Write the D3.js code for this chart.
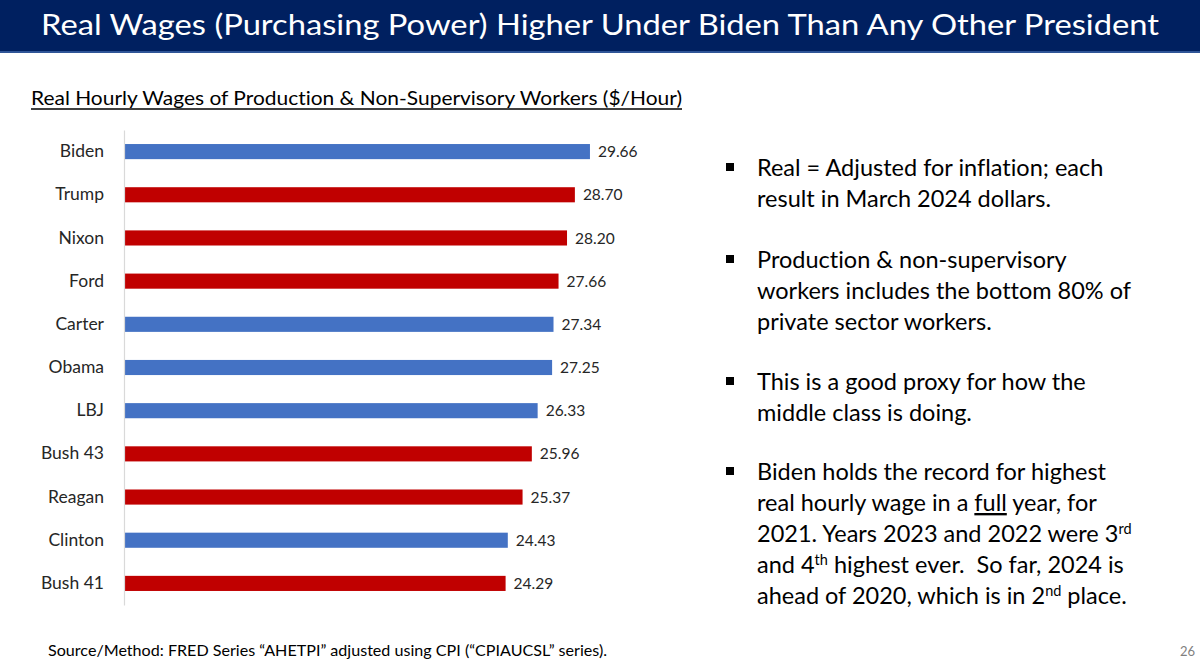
<!DOCTYPE html>
<html>
<head>
<meta charset="utf-8">
<script src="https://cdn.jsdelivr.net/npm/d3@7/dist/d3.min.js"></script>
<style>
  html, body { margin: 0; padding: 0; background: #fff; }
  svg { display: block; font-family: Lato, "Noto Sans", sans-serif; font-variant-ligatures: none; font-feature-settings: "liga" 0, "clig" 0; }
</style>
</head>
<body>
<svg id="chart" width="1200" height="669"></svg>
<script>
const presidents = ["Biden","Trump","Nixon","Ford","Carter","Obama","LBJ","Bush 43","Reagan","Clinton","Bush 41"];
const wages = [29.66, 28.70, 28.20, 27.66, 27.34, 27.25, 26.33, 25.96, 25.37, 24.43, 24.29];
const parties = ["D","R","R","R","D","D","D","R","R","D","R"];
const partyColors = { D: "#4472C4", R: "#C00000" };

const titleText = "Real Wages (Purchasing Power) Higher Under Biden Than Any Other President";
const subtitleText = "Real Hourly Wages of Production & Non-Supervisory Workers ($/Hour)";
const sourceText = "Source/Method: FRED Series \u201CAHETPI\u201D adjusted using CPI (\u201CCPIAUCSL\u201D series).";
const pageNumber = "26";

const data = presidents.map((p, i) => ({ name: p, value: wages[i], party: parties[i] }));

const svg = d3.select("#chart");

// Title bar
svg.append("rect").attr("x", 0).attr("y", 0).attr("width", 1200).attr("height", 52).attr("fill", "#002060");
svg.append("rect").attr("x", 0).attr("y", 51).attr("width", 1200).attr("height", 2).attr("fill", "#2F5597");
svg.append("text")
  .attr("x", 600).attr("y", 35)
  .attr("text-anchor", "middle")
  .attr("fill", "#fff")
  .attr("font-size", 28)
  .attr("textLength", 1118)
  .attr("lengthAdjust", "spacingAndGlyphs")
  .text(titleText);

// Subtitle
svg.append("text")
  .attr("x", 31).attr("y", 105)
  .attr("fill", "#000")
  .attr("font-size", 19)
  .attr("textLength", 651)
  .attr("lengthAdjust", "spacingAndGlyphs")
  .text(subtitleText);
svg.append("line").attr("x1", 31).attr("x2", 682).attr("y1", 109).attr("y2", 109)
  .attr("stroke", "#000").attr("stroke-width", 1.3);

// Scales
const x = d3.scaleLinear().domain([0, 30]).range([124, 595.3]);
const y = d3.scaleBand().domain(presidents).range([130, 605]).paddingInner(0.65).paddingOuter(0.325);

// Bars
svg.append("g").selectAll("rect").data(data).join("rect")
  .attr("x", x(0))
  .attr("y", d => y(d.name))
  .attr("width", d => x(d.value) - x(0))
  .attr("height", y.bandwidth())
  .attr("fill", d => partyColors[d.party]);

// Axis
const axis = svg.append("g")
  .attr("transform", `translate(${x(0)},0)`)
  .call(d3.axisLeft(y).tickSize(0).tickSizeOuter(0).tickPadding(20));
axis.select(".domain").attr("stroke", "#D9D9D9").attr("stroke-width", 1.2);
axis.selectAll("text")
  .attr("font-size", 17.5)
  .attr("fill", "#262626")
  .attr("font-family", "Lato, 'Noto Sans', sans-serif");

// Value labels
svg.append("g").selectAll("text").data(data).join("text")
  .attr("x", d => x(d.value) + 8)
  .attr("y", d => y(d.name) + y.bandwidth() / 2)
  .attr("dy", "0.36em")
  .attr("font-size", 15.5)
  .attr("fill", "#262626")
  .text(d => d.value.toFixed(2));

// Bullets
const bullets = [
  { top: 168, lines: [[{t:"Real = Adjusted for inflation; each"}], [{t:"result in March 2024 dollars."}]] },
  { top: 260, lines: [[{t:"Production & non-supervisory"}], [{t:"workers includes the bottom 80% of"}], [{t:"private sector workers."}]] },
  { top: 382, lines: [[{t:"This is a good proxy for how the"}], [{t:"middle class is doing."}]] },
  { top: 472, lines: [
      [{t:"Biden holds the record for highest"}],
      [{t:"real hourly wage in a "}, {t:"full", u:true}, {t:" year, for"}],
      [{t:"2021. Years 2023 and 2022 were 3"}, {t:"rd", sup:true}],
      [{t:"and 4"}, {t:"th", sup:true}, {t:" highest ever.  So far, 2024 is"}],
      [{t:"ahead of 2020, which is in 2"}, {t:"nd", sup:true}, {t:" place."}]
    ] }
];
const lineH = 31;
const bg = svg.append("g");
bullets.forEach(b => {
  bg.append("rect").attr("x", 726).attr("y", b.top - 5).attr("width", 8).attr("height", 8).attr("fill", "#000");
  b.lines.forEach((ln, i) => {
    const t = bg.append("text")
      .attr("x", 757).attr("y", b.top + 8 + i * lineH)
      .attr("font-size", 23.5).attr("fill", "#000")
      .attr("xml:space", "preserve")
      .style("white-space", "pre");
    ln.forEach(seg => {
      const ts = t.append("tspan").text(seg.t);
      if (seg.u) ts.attr("text-decoration", "underline");
      if (seg.sup) ts.attr("font-size", 14.5).attr("baseline-shift", "55%");
    });
  });
});

// Source
svg.append("text")
  .attr("x", 48).attr("y", 656)
  .attr("font-size", 16).attr("fill", "#000")
  .attr("textLength", 559)
  .attr("lengthAdjust", "spacingAndGlyphs")
  .text(sourceText);

// Page number
svg.append("text")
  .attr("x", 1195).attr("y", 656)
  .attr("text-anchor", "end")
  .attr("font-size", 13).attr("fill", "#7F7F7F")
  .text(pageNumber);
</script>
</body>
</html>
